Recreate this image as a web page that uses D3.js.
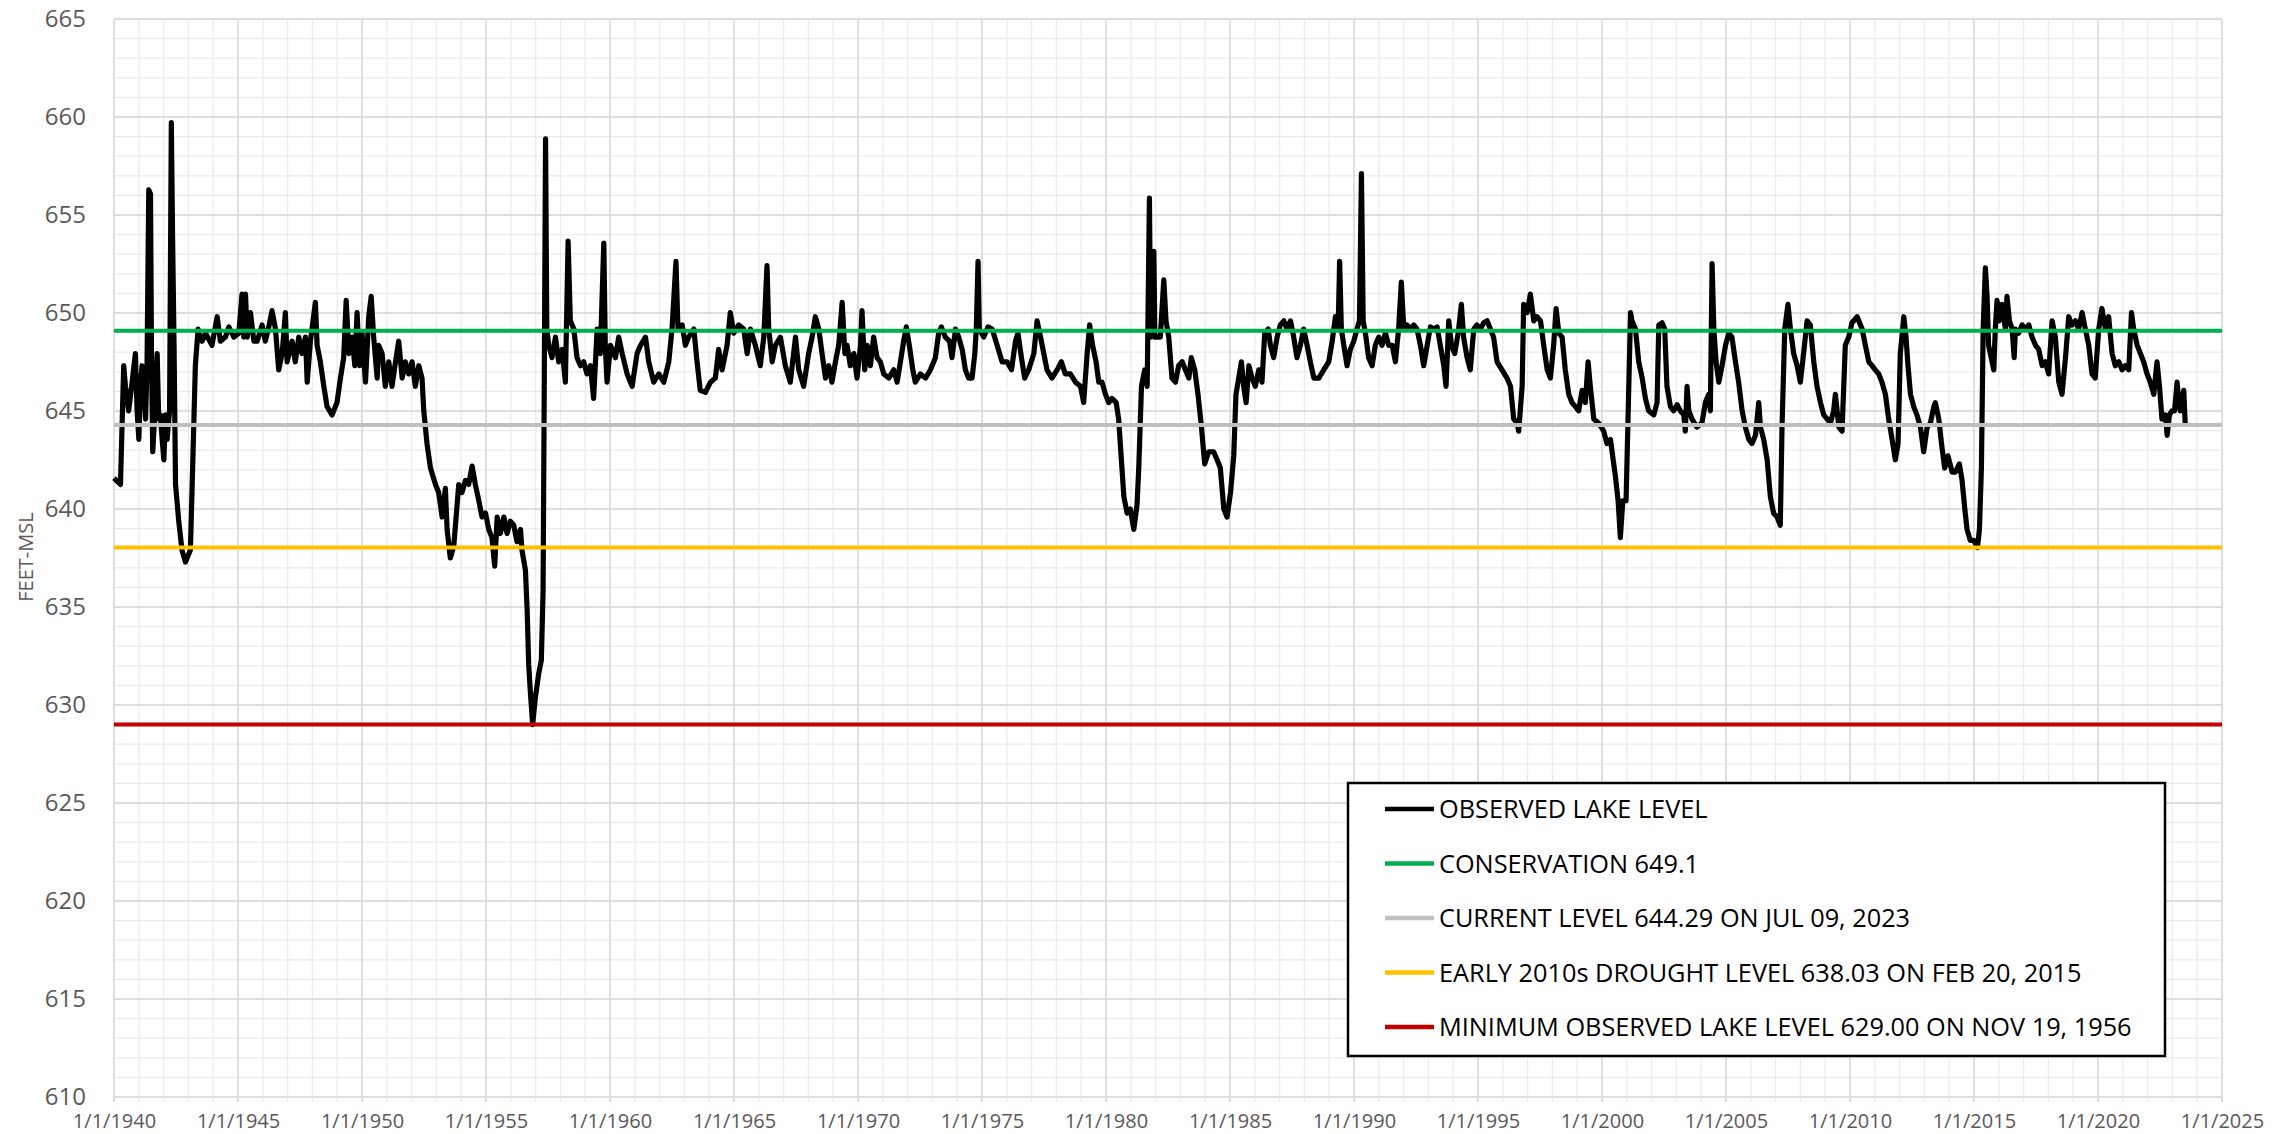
<!DOCTYPE html>
<html>
<head>
<meta charset="utf-8">
<script src="https://cdn.jsdelivr.net/npm/d3@7"></script>
<style>
  html, body { margin: 0; padding: 0; background: #ffffff; }
  svg { display: block; }
</style>
</head>
<body>
<svg id="chart" width="2288" height="1134"></svg>
<script>
// ---------------- DATA ----------------
const yTickValues = [610, 615, 620, 625, 630, 635, 640, 645, 650, 655, 660, 665];
const xTickYears = [1940, 1945, 1950, 1955, 1960, 1965, 1970, 1975, 1980, 1985, 1990, 1995, 2000, 2005, 2010, 2015, 2020, 2025];

const seriesNames = [
  "OBSERVED LAKE LEVEL",
  "CONSERVATION 649.1",
  "CURRENT LEVEL 644.29 ON JUL 09, 2023",
  "EARLY 2010s DROUGHT LEVEL 638.03 ON FEB 20, 2015",
  "MINIMUM OBSERVED LAKE LEVEL 629.00 ON NOV 19, 1956"
];
const seriesColors = ["#000000", "#00B050", "#BFBFBF", "#FFC000", "#C00000"];
const referenceLevels = [649.1, 644.29, 638.03, 629.00];

// observed lake level, [decimal year, feet-msl]
const obs1940s = [[1940.00,641.57],[1940.26,641.25],[1940.39,647.31],[1940.46,646.26],[1940.59,645.01],[1940.73,646.47],[1940.86,647.93],[1940.93,645.01],[1941.00,643.55],[1941.06,646.26],[1941.13,647.31],[1941.20,646.26],[1941.27,644.59],[1941.33,647.31],[1941.40,656.28],[1941.47,656.07],[1941.51,647.93],[1941.56,642.92],[1941.64,644.80],[1941.74,647.93],[1941.80,644.59],[1941.87,644.80],[1941.94,643.55],[1942.01,642.51],[1942.07,644.80],[1942.14,643.55],[1942.24,645.01],[1942.31,659.72],[1942.36,653.98],[1942.42,648.35],[1942.48,641.25],[1942.61,639.38],[1942.74,637.91],[1942.88,637.29],[1943.08,637.91],[1943.17,642.09],[1943.28,647.31],[1943.39,649.18],[1943.48,648.77],[1943.55,648.56],[1943.69,648.97],[1943.82,648.66],[1943.95,648.35],[1944.16,649.81],[1944.29,648.56],[1944.49,648.77],[1944.63,649.29],[1944.83,648.77],[1945.03,648.97],[1945.16,650.96],[1945.23,648.77],[1945.30,650.96],[1945.37,648.77],[1945.50,650.02],[1945.64,648.56],[1945.77,648.56],[1945.97,649.39],[1946.10,648.56],[1946.24,649.29],[1946.37,650.12],[1946.51,649.18],[1946.64,647.10],[1946.78,647.93],[1946.91,650.02],[1946.98,647.51],[1947.18,648.56],[1947.31,647.51],[1947.45,648.77],[1947.58,647.93],[1947.72,648.77],[1947.79,646.47],[1947.92,648.56],[1948.12,650.54],[1948.19,648.35],[1948.32,647.51],[1948.46,646.26],[1948.59,645.22],[1948.79,644.80],[1948.99,645.43],[1949.13,646.68],[1949.26,647.72],[1949.36,650.64],[1949.47,647.93],[1949.60,648.77],[1949.71,647.31],[1949.80,650.02],[1949.90,647.31]];
const obs1950s = [[1950.00,648.97],[1950.14,646.47],[1950.27,649.81],[1950.37,650.85],[1950.47,648.77],[1950.61,646.68],[1950.67,648.35],[1950.81,647.93],[1950.94,646.26],[1951.08,647.51],[1951.21,646.26],[1951.35,647.51],[1951.48,648.56],[1951.62,646.68],[1951.75,647.51],[1951.88,646.89],[1952.02,647.51],[1952.15,646.26],[1952.29,647.31],[1952.42,646.68],[1952.49,645.01],[1952.62,643.34],[1952.76,642.09],[1952.96,641.25],[1953.09,640.84],[1953.23,639.59],[1953.36,641.05],[1953.43,638.96],[1953.56,637.50],[1953.70,638.12],[1953.90,641.25],[1954.03,640.84],[1954.17,641.46],[1954.30,641.25],[1954.44,642.19],[1954.57,641.25],[1954.71,640.42],[1954.84,639.59],[1954.98,639.79],[1955.11,638.96],[1955.24,638.54],[1955.35,637.08],[1955.45,639.59],[1955.58,638.75],[1955.72,639.59],[1955.85,638.75],[1955.98,639.38],[1956.12,639.17],[1956.25,638.33],[1956.39,638.96],[1956.45,637.91],[1956.59,636.87],[1956.66,634.78],[1956.72,632.07],[1956.79,630.61],[1956.88,629.00],[1956.99,630.40],[1957.13,631.65],[1957.23,632.28],[1957.30,635.83],[1957.34,644.59],[1957.40,658.89],[1957.45,649.18],[1957.53,648.35],[1957.66,647.72],[1957.80,648.77],[1957.93,647.51],[1958.07,648.14],[1958.20,646.47],[1958.31,653.67],[1958.40,649.60],[1958.54,649.18],[1958.67,647.72],[1958.81,647.31],[1958.94,647.51],[1959.07,646.89],[1959.21,647.31],[1959.34,645.64],[1959.48,649.18],[1959.61,647.93],[1959.75,653.57],[1959.81,648.35],[1959.88,646.47]];
const obs1960s = [[1960.02,648.35],[1960.22,647.72],[1960.35,648.77],[1960.49,647.93],[1960.69,646.89],[1960.89,646.26],[1961.09,647.93],[1961.23,648.35],[1961.43,648.77],[1961.56,647.51],[1961.76,646.47],[1961.97,646.89],[1962.17,646.47],[1962.37,647.51],[1962.50,649.18],[1962.66,652.63],[1962.74,649.18],[1962.91,649.39],[1963.04,648.35],[1963.17,648.77],[1963.38,649.18],[1963.51,647.51],[1963.64,646.05],[1963.85,645.95],[1964.05,646.47],[1964.25,646.68],[1964.38,648.14],[1964.52,647.10],[1964.72,648.35],[1964.85,650.02],[1964.99,648.97],[1965.19,649.39],[1965.39,649.18],[1965.53,647.93],[1965.66,649.18],[1965.86,648.35],[1966.06,647.31],[1966.20,648.77],[1966.33,652.42],[1966.40,649.18],[1966.54,647.51],[1966.67,648.35],[1966.87,648.77],[1967.07,647.31],[1967.27,646.47],[1967.48,648.77],[1967.61,647.10],[1967.81,646.26],[1968.01,647.93],[1968.15,648.77],[1968.28,649.81],[1968.42,649.18],[1968.55,647.93],[1968.69,646.68],[1968.82,647.31],[1968.95,646.47],[1969.09,647.51],[1969.22,648.35],[1969.36,650.54],[1969.47,647.93],[1969.56,648.35],[1969.69,647.31],[1969.83,647.93],[1969.96,646.68]];
const obs1970s = [[1970.10,648.35],[1970.16,650.12],[1970.27,647.10],[1970.37,648.35],[1970.50,647.31],[1970.63,648.77],[1970.77,647.72],[1970.90,647.51],[1971.04,646.89],[1971.24,646.68],[1971.44,647.10],[1971.58,646.47],[1971.71,647.51],[1971.84,648.56],[1971.95,649.29],[1972.07,648.35],[1972.21,647.10],[1972.31,646.47],[1972.52,646.89],[1972.72,646.68],[1972.92,647.10],[1973.12,647.72],[1973.25,648.97],[1973.36,649.29],[1973.52,648.77],[1973.69,648.56],[1973.79,647.72],[1973.93,649.18],[1974.06,648.77],[1974.20,648.14],[1974.33,647.10],[1974.46,646.68],[1974.60,646.68],[1974.71,647.93],[1974.77,649.18],[1974.84,652.63],[1974.89,649.18],[1975.07,648.77],[1975.24,649.29],[1975.41,649.18],[1975.61,648.35],[1975.81,647.51],[1976.01,647.51],[1976.19,647.10],[1976.35,648.56],[1976.45,648.97],[1976.59,647.72],[1976.72,646.68],[1976.88,647.10],[1977.09,647.93],[1977.22,649.60],[1977.36,648.77],[1977.49,647.93],[1977.62,647.10],[1977.82,646.68],[1978.03,647.10],[1978.20,647.51],[1978.36,646.89],[1978.56,646.89],[1978.77,646.47],[1978.97,646.26],[1979.10,645.43],[1979.24,647.93],[1979.34,649.39],[1979.46,648.35],[1979.60,647.51],[1979.71,646.47],[1979.84,646.47],[1979.98,645.85]];
const obs1980s = [[1980.11,645.43],[1980.24,645.64],[1980.41,645.43],[1980.51,644.59],[1980.62,642.51],[1980.72,640.63],[1980.85,639.79],[1980.98,640.00],[1981.12,638.96],[1981.25,640.21],[1981.32,642.09],[1981.43,646.26],[1981.56,647.10],[1981.66,646.26],[1981.75,655.86],[1981.80,648.77],[1981.93,653.15],[1981.97,648.77],[1982.19,648.77],[1982.33,651.69],[1982.42,649.60],[1982.53,648.77],[1982.66,646.68],[1982.80,646.47],[1982.93,647.31],[1983.07,647.51],[1983.20,647.10],[1983.34,646.68],[1983.44,647.72],[1983.58,647.10],[1983.71,645.85],[1983.85,644.18],[1983.98,642.30],[1984.14,642.92],[1984.34,642.92],[1984.48,642.51],[1984.61,642.09],[1984.75,640.00],[1984.88,639.59],[1985.02,640.84],[1985.15,642.71],[1985.24,645.85],[1985.35,646.68],[1985.46,647.51],[1985.55,646.26],[1985.65,645.43],[1985.76,647.31],[1985.89,646.68],[1986.02,646.26],[1986.16,647.10],[1986.29,646.47],[1986.40,648.97],[1986.54,649.18],[1986.63,648.35],[1986.76,647.72],[1986.90,648.77],[1987.03,649.39],[1987.17,649.60],[1987.30,649.18],[1987.44,649.60],[1987.57,648.77],[1987.70,647.72],[1987.84,648.35],[1987.97,649.18],[1988.11,648.35],[1988.24,647.51],[1988.38,646.68],[1988.58,646.68],[1988.78,647.10],[1988.98,647.51],[1989.12,648.56],[1989.25,649.81],[1989.36,649.18],[1989.42,652.63],[1989.49,649.18],[1989.59,648.35],[1989.72,647.31],[1989.85,648.14],[1989.99,648.56]];
const obs1990s = [[1990.12,649.18],[1990.22,649.60],[1990.30,657.11],[1990.37,649.60],[1990.46,648.97],[1990.59,647.72],[1990.73,647.31],[1990.86,648.35],[1991.00,648.77],[1991.13,648.35],[1991.27,648.97],[1991.40,648.35],[1991.54,648.35],[1991.67,647.51],[1991.80,649.18],[1991.91,651.58],[1992.01,649.18],[1992.14,649.39],[1992.27,649.18],[1992.41,649.39],[1992.54,649.18],[1992.68,648.35],[1992.81,647.31],[1992.95,648.35],[1993.08,649.29],[1993.22,649.18],[1993.35,649.29],[1993.48,648.35],[1993.62,647.31],[1993.71,646.26],[1993.82,649.60],[1993.93,648.35],[1994.06,647.93],[1994.20,648.97],[1994.33,650.44],[1994.42,648.77],[1994.56,647.72],[1994.69,647.10],[1994.83,649.18],[1994.96,649.39],[1995.10,649.18],[1995.23,649.50],[1995.37,649.60],[1995.50,649.18],[1995.63,648.77],[1995.77,647.51],[1995.97,647.10],[1996.17,646.68],[1996.31,646.26],[1996.44,644.59],[1996.58,644.38],[1996.64,643.97],[1996.78,646.26],[1996.84,650.44],[1996.98,650.02],[1997.11,650.96],[1997.25,649.60],[1997.38,649.81],[1997.52,649.60],[1997.65,648.35],[1997.79,647.10],[1997.92,646.68],[1998.05,648.35],[1998.15,650.23],[1998.26,648.97],[1998.39,648.77],[1998.52,647.10],[1998.66,645.85],[1998.79,645.43],[1998.93,645.22],[1999.06,645.01],[1999.20,646.05],[1999.33,645.43],[1999.44,647.51],[1999.53,646.26],[1999.67,644.59],[1999.87,644.38]];
const obs2000s = [[2000.07,643.97],[2000.20,643.34],[2000.34,643.55],[2000.43,642.71],[2000.54,641.67],[2000.65,640.42],[2000.74,638.54],[2000.84,640.42],[2000.97,640.42],[2001.08,646.26],[2001.15,650.02],[2001.21,649.60],[2001.35,649.18],[2001.48,647.51],[2001.62,646.68],[2001.75,645.64],[2001.88,645.01],[2002.09,644.80],[2002.22,645.43],[2002.29,649.39],[2002.42,649.50],[2002.53,649.18],[2002.62,646.26],[2002.76,645.22],[2002.89,645.01],[2003.03,645.32],[2003.16,645.01],[2003.30,644.80],[2003.36,643.97],[2003.43,646.26],[2003.50,645.01],[2003.63,644.59],[2003.83,644.18],[2004.03,644.38],[2004.17,645.43],[2004.30,645.85],[2004.37,645.01],[2004.44,652.52],[2004.51,649.18],[2004.60,647.51],[2004.71,646.47],[2004.84,647.31],[2004.98,648.35],[2005.11,648.97],[2005.24,648.77],[2005.38,647.51],[2005.51,646.47],[2005.65,645.01],[2005.78,644.18],[2005.92,643.55],[2006.05,643.34],[2006.19,643.76],[2006.32,645.43],[2006.39,644.18],[2006.52,643.55],[2006.66,642.51],[2006.79,640.63],[2006.92,639.79],[2007.06,639.59],[2007.19,639.17],[2007.26,644.18],[2007.37,649.18],[2007.50,650.44],[2007.60,649.18],[2007.73,647.93],[2007.87,647.31],[2008.00,646.47],[2008.13,647.93],[2008.27,649.60],[2008.40,649.39],[2008.54,647.51],[2008.67,646.26],[2008.81,645.43],[2008.94,644.80],[2009.08,644.59],[2009.21,644.38],[2009.34,645.01],[2009.41,645.85],[2009.55,644.18],[2009.68,643.97],[2009.81,648.35],[2009.95,648.77]];
const obs2010s = [[2010.08,649.50],[2010.29,649.81],[2010.49,649.18],[2010.62,648.35],[2010.76,647.51],[2010.89,647.31],[2011.02,647.10],[2011.16,646.89],[2011.29,646.47],[2011.43,645.85],[2011.56,644.59],[2011.70,643.55],[2011.83,642.51],[2011.94,643.34],[2012.03,647.93],[2012.17,649.81],[2012.26,648.77],[2012.34,647.31],[2012.44,645.85],[2012.57,645.22],[2012.70,644.80],[2012.84,644.18],[2012.97,642.92],[2013.11,644.18],[2013.24,644.38],[2013.38,645.22],[2013.44,645.43],[2013.58,644.59],[2013.71,643.13],[2013.82,642.09],[2013.95,642.71],[2014.12,641.88],[2014.25,641.88],[2014.41,642.30],[2014.52,641.46],[2014.63,640.00],[2014.72,638.96],[2014.85,638.40],[2014.99,638.40],[2015.14,638.03],[2015.22,638.96],[2015.30,642.09],[2015.37,649.18],[2015.46,652.31],[2015.53,650.85],[2015.59,648.35],[2015.73,647.51],[2015.80,647.10],[2015.86,649.18],[2015.93,650.64],[2016.02,649.60],[2016.13,650.44],[2016.27,649.18],[2016.33,650.85],[2016.43,649.60],[2016.54,649.18],[2016.62,647.72],[2016.67,649.18],[2016.80,648.97],[2016.94,649.39],[2017.07,649.18],[2017.21,649.39],[2017.34,648.77],[2017.48,648.35],[2017.61,648.14],[2017.75,647.31],[2017.88,647.51],[2018.01,646.89],[2018.15,649.60],[2018.28,648.77],[2018.42,646.47],[2018.55,645.85],[2018.69,647.72],[2018.82,649.81],[2018.95,649.39],[2019.09,649.60],[2019.22,649.18],[2019.36,650.02],[2019.49,649.18],[2019.63,648.35],[2019.76,646.89],[2019.89,646.68]];
const obs2020s = [[2020.03,649.18],[2020.16,650.23],[2020.30,649.18],[2020.43,649.81],[2020.57,647.93],[2020.70,647.31],[2020.84,647.51],[2020.97,647.10],[2021.10,647.31],[2021.24,647.10],[2021.35,650.02],[2021.44,649.18],[2021.58,648.35],[2021.71,647.93],[2021.84,647.51],[2021.98,646.89],[2022.11,646.47],[2022.25,645.85],[2022.38,647.51],[2022.48,646.26],[2022.58,644.59],[2022.72,644.80],[2022.79,643.76],[2022.88,644.80],[2022.99,645.01],[2023.09,645.01],[2023.19,646.47],[2023.25,645.64],[2023.32,645.01],[2023.46,646.05],[2023.52,644.29]];

// ---------------- CHART ----------------
const observed = [].concat(obs1940s, obs1950s, obs1960s, obs1970s, obs1980s, obs1990s, obs2000s, obs2010s, obs2020s);

function yearToDate(dy) {
  const yr = Math.floor(dy);
  const start = new Date(yr, 0, 1).getTime();
  const end = new Date(yr + 1, 0, 1).getTime();
  return new Date(start + (dy - yr) * (end - start));
}

const W = 2288, H = 1134;
const plot = { left: 114, right: 2222, top: 19, bottom: 1097 };

const svg = d3.select("#chart");
svg.append("rect").attr("width", W).attr("height", H).attr("fill", "#ffffff");

const x = d3.scaleTime()
  .domain([new Date(xTickYears[0], 0, 1), new Date(xTickYears[xTickYears.length - 1], 0, 1)])
  .range([plot.left, plot.right]);
const y = d3.scaleLinear()
  .domain([yTickValues[0], yTickValues[yTickValues.length - 1]])
  .range([plot.bottom, plot.top]);

// minor gridlines
const minorYears = d3.timeYear.range(x.domain()[0], d3.timeDay.offset(x.domain()[1], 1));
const minorFeet = d3.range(yTickValues[0], yTickValues[yTickValues.length - 1] + 1, 1);
const grid = svg.append("g");
grid.selectAll("line.vminor").data(minorYears).join("line")
  .attr("x1", d => x(d)).attr("x2", d => x(d))
  .attr("y1", plot.top).attr("y2", plot.bottom + 5)
  .attr("stroke", "#ebebeb").attr("stroke-width", 1.3);
grid.selectAll("line.hminor").data(minorFeet).join("line")
  .attr("x1", plot.left).attr("x2", plot.right)
  .attr("y1", d => y(d)).attr("y2", d => y(d))
  .attr("stroke", "#ebebeb").attr("stroke-width", 1.3);
// major gridlines
grid.selectAll("line.vmajor").data(xTickYears).join("line")
  .attr("x1", d => x(new Date(d, 0, 1))).attr("x2", d => x(new Date(d, 0, 1)))
  .attr("y1", plot.top).attr("y2", plot.bottom + 5)
  .attr("stroke", "#d9d9d9").attr("stroke-width", 1.5);
grid.selectAll("line.hmajor").data(yTickValues).join("line")
  .attr("x1", plot.left).attr("x2", plot.right)
  .attr("y1", d => y(d)).attr("y2", d => y(d))
  .attr("stroke", "#d9d9d9").attr("stroke-width", 1.5);

// axes (labels only)
const yAxis = d3.axisLeft(y).tickValues(yTickValues).tickSize(0).tickPadding(28).tickFormat(d3.format("d"));
const gy = svg.append("g").attr("transform", `translate(${plot.left},0)`).call(yAxis);
gy.select(".domain").remove();
gy.selectAll("text").attr("font-family", "'Open Sans', sans-serif").attr("font-size", 24).attr("fill", "#595959");

const fmt = d3.timeFormat("%-m/%-d/%Y");
const xAxis = d3.axisBottom(x).tickValues(xTickYears.map(v => new Date(v, 0, 1))).tickSize(0).tickPadding(17).tickFormat(fmt);
const gx = svg.append("g").attr("transform", `translate(0,${plot.bottom})`).call(xAxis);
gx.select(".domain").remove();
gx.selectAll("text").attr("font-family", "'Open Sans', sans-serif").attr("font-size", 20).attr("fill", "#595959");

svg.append("text")
  .attr("transform", "translate(33,557) rotate(-90)")
  .attr("text-anchor", "middle")
  .attr("font-family", "'Open Sans', sans-serif").attr("font-size", 20).attr("fill", "#595959")
  .text("FEET-MSL");

// observed series
const line = d3.line().x(d => x(yearToDate(d[0]))).y(d => y(d[1])).curve(d3.curveLinear);
svg.append("path").datum(observed)
  .attr("d", line).attr("fill", "none")
  .attr("stroke", seriesColors[0]).attr("stroke-width", 5.2).attr("stroke-linejoin", "round");

// reference levels
svg.selectAll("line.ref").data(referenceLevels).join("line")
  .attr("x1", plot.left).attr("x2", plot.right)
  .attr("y1", d => y(d)).attr("y2", d => y(d))
  .attr("stroke", (d, i) => seriesColors[i + 1]).attr("stroke-width", 4);

// legend
const legend = { x0: 1348, y0: 783, x1: 2165, y1: 1056 };
svg.append("rect")
  .attr("x", legend.x0).attr("y", legend.y0)
  .attr("width", legend.x1 - legend.x0).attr("height", legend.y1 - legend.y0)
  .attr("fill", "#ffffff").attr("stroke", "#000000").attr("stroke-width", 2.5);
const rowY = i => 809 + i * 54.5;
const lg = svg.append("g");
lg.selectAll("line").data(seriesNames).join("line")
  .attr("x1", 1385).attr("x2", 1434)
  .attr("y1", (d, i) => rowY(i)).attr("y2", (d, i) => rowY(i))
  .attr("stroke", (d, i) => seriesColors[i]).attr("stroke-width", 4.5);
const texts = lg.selectAll("text").data(seriesNames).join("text")
  .attr("font-family", "'Liberation Sans Narrow', 'Open Sans', sans-serif")
  .attr("font-size", 26).attr("fill", "#000000")
  .attr("dy", "0.36em")
  .text(d => d);
let maxLen = 0;
texts.each(function () { maxLen = Math.max(maxLen, this.getComputedTextLength()); });
const sx = maxLen > 0 ? 693 / maxLen : 1;
texts.attr("transform", (d, i) => `translate(1439,${rowY(i)}) scale(${sx},1)`);
</script>
</body>
</html>
